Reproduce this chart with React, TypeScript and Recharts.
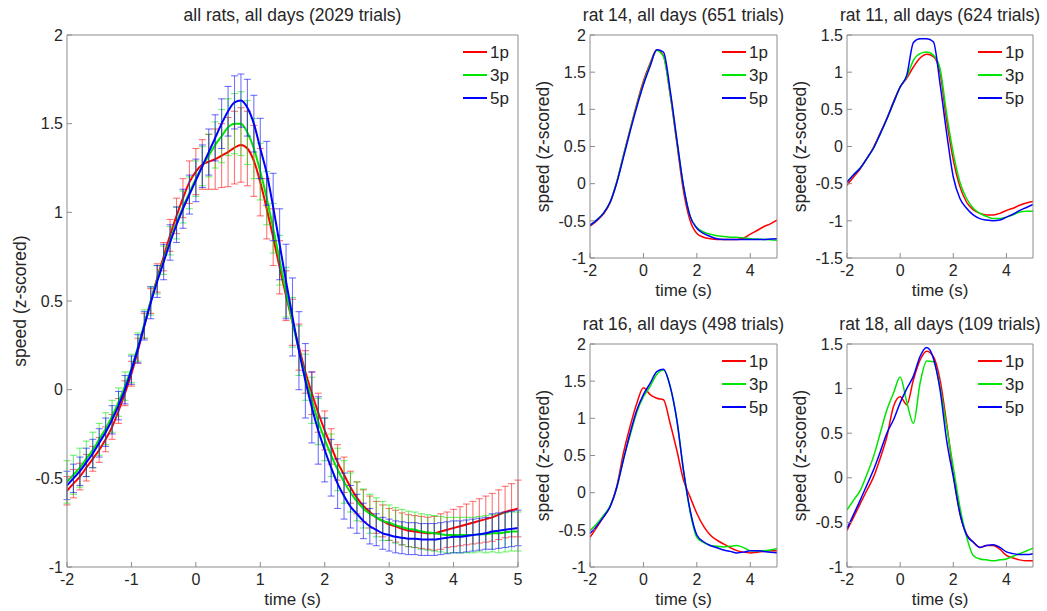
import React from "react";
import { LineChart, Line, XAxis, YAxis, ErrorBar } from "recharts";

const FONT = '"Liberation Sans", Arial, sans-serif';
const TEXT = "#262626";
const AXIS = "#8c8c8c";
const COLORS = ["#ff0000", "#00e600", "#0000ff"];
const SERIES = ["1p", "3p", "5p"];

// all rats, sampled every 0.1 s
const TIME_ALL = [
  -2, -1.9, -1.8, -1.7, -1.6, -1.5, -1.4, -1.3, -1.2, -1.1,
  -1, -0.9, -0.8, -0.7, -0.6, -0.5, -0.4, -0.3, -0.2, -0.1,
  0, 0.1, 0.2, 0.3, 0.4, 0.5, 0.6, 0.7, 0.8, 0.9,
  1, 1.1, 1.2, 1.3, 1.4, 1.5, 1.6, 1.7, 1.8, 1.9,
  2, 2.1, 2.2, 2.3, 2.4, 2.5, 2.6, 2.7, 2.8, 2.9,
  3, 3.1, 3.2, 3.3, 3.4, 3.5, 3.6, 3.7, 3.8, 3.9,
  4, 4.1, 4.2, 4.3, 4.4, 4.5, 4.6, 4.7, 4.8, 4.9,
  5,
];
const ALL_1P = [
  -0.57, -0.53, -0.49, -0.44, -0.39, -0.34, -0.28, -0.21, -0.12, -0.02,
  0.09, 0.22, 0.36, 0.5, 0.63, 0.75, 0.87, 0.98, 1.08, 1.17,
  1.23, 1.27, 1.285, 1.3, 1.32, 1.34, 1.365, 1.38, 1.36, 1.29,
  1.17, 1.02, 0.86, 0.69, 0.53, 0.38, 0.24, 0.1, -0.02, -0.13,
  -0.23, -0.32, -0.41, -0.48, -0.55, -0.61, -0.655, -0.69, -0.72, -0.74,
  -0.76, -0.77, -0.785, -0.795, -0.8, -0.805, -0.81, -0.81, -0.8, -0.79,
  -0.78, -0.77, -0.76, -0.75, -0.74, -0.73, -0.72, -0.705, -0.69, -0.68,
  -0.67,
];
const ALL_3P = [
  -0.52, -0.48, -0.44, -0.39, -0.34, -0.28, -0.22, -0.15, -0.07, 0.02,
  0.12, 0.24, 0.37, 0.5, 0.62, 0.73, 0.84, 0.94, 1.03, 1.11,
  1.19, 1.26, 1.32, 1.38, 1.43, 1.48, 1.5, 1.5, 1.45, 1.36,
  1.23, 1.08, 0.91, 0.73, 0.55, 0.38, 0.22, 0.07, -0.06, -0.18,
  -0.28, -0.37, -0.45, -0.52, -0.58, -0.63, -0.67, -0.7, -0.72, -0.74,
  -0.75, -0.765, -0.775, -0.785, -0.79, -0.8, -0.805, -0.81, -0.815, -0.82,
  -0.82, -0.82, -0.82, -0.82, -0.815, -0.815, -0.81, -0.81, -0.805, -0.8,
  -0.8,
];
const ALL_5P = [
  -0.54, -0.5, -0.46, -0.41, -0.36, -0.3, -0.24, -0.17, -0.09, 0.0,
  0.11, 0.23, 0.36, 0.49, 0.61, 0.72, 0.83, 0.93, 1.02, 1.1,
  1.18, 1.26, 1.34, 1.42, 1.5, 1.57, 1.62, 1.63, 1.59, 1.5,
  1.36, 1.22, 1.03, 0.82, 0.61, 0.41, 0.22, 0.05, -0.1, -0.23,
  -0.34, -0.44, -0.53, -0.6, -0.66, -0.7, -0.74, -0.77, -0.79, -0.81,
  -0.82, -0.83, -0.835, -0.84, -0.84, -0.845, -0.845, -0.845, -0.84, -0.835,
  -0.83, -0.83, -0.825, -0.82, -0.815, -0.81, -0.8, -0.795, -0.79, -0.785,
  -0.78,
];
const ALL_1P_ERR = [
  0.08, 0.08, 0.075, 0.075, 0.07, 0.07, 0.07, 0.07, 0.07, 0.07,
  0.07, 0.07, 0.07, 0.07, 0.08, 0.08, 0.09, 0.1, 0.11, 0.12,
  0.13, 0.14, 0.155, 0.17, 0.18, 0.195, 0.205, 0.21, 0.21, 0.2,
  0.19, 0.17, 0.16, 0.15, 0.14, 0.13, 0.13, 0.12, 0.12, 0.11,
  0.11, 0.1, 0.1, 0.1, 0.09, 0.09, 0.09, 0.09, 0.09, 0.09,
  0.09, 0.09, 0.09, 0.09, 0.09, 0.09, 0.09, 0.095, 0.1, 0.1,
  0.105, 0.11, 0.115, 0.12, 0.125, 0.13, 0.135, 0.14, 0.145, 0.15,
  0.16,
];
const ALL_3P_ERR = [
  0.12, 0.11, 0.11, 0.1, 0.1, 0.09, 0.09, 0.09, 0.08, 0.08,
  0.08, 0.08, 0.08, 0.08, 0.08, 0.08, 0.08, 0.09, 0.09, 0.09,
  0.1, 0.11, 0.12, 0.13, 0.15, 0.16, 0.17, 0.18, 0.18, 0.17,
  0.16, 0.15, 0.14, 0.14, 0.14, 0.14, 0.14, 0.13, 0.13, 0.13,
  0.12, 0.12, 0.12, 0.12, 0.11, 0.11, 0.11, 0.11, 0.11, 0.11,
  0.1, 0.1, 0.1, 0.1, 0.1, 0.1, 0.1, 0.1, 0.1, 0.1,
  0.1, 0.1, 0.1, 0.1, 0.1, 0.105, 0.105, 0.11, 0.11, 0.11,
  0.11,
];
const ALL_5P_ERR = [
  0.08, 0.08, 0.08, 0.08, 0.08, 0.08, 0.08, 0.08, 0.08, 0.08,
  0.08, 0.08, 0.08, 0.09, 0.09, 0.1, 0.1, 0.1, 0.11, 0.11,
  0.12, 0.12, 0.13, 0.13, 0.14, 0.14, 0.15, 0.15, 0.16, 0.16,
  0.17, 0.18, 0.19, 0.2, 0.21, 0.22, 0.22, 0.21, 0.2, 0.19,
  0.18, 0.16, 0.14, 0.13, 0.12, 0.11, 0.1, 0.1, 0.09, 0.09,
  0.09, 0.09, 0.09, 0.09, 0.09, 0.09, 0.09, 0.09, 0.09, 0.09,
  0.09, 0.09, 0.09, 0.09, 0.09, 0.09, 0.1, 0.1, 0.1, 0.1,
  0.1,
];

// single rats, sampled every 0.25 s
const TIME_RAT = [
  -2, -1.75, -1.5, -1.25, -1, -0.75, -0.5, -0.25, 0, 0.25, 0.5, 0.75, 1, 1.25,
  1.5, 1.75, 2, 2.25, 2.5, 2.75, 3, 3.25, 3.5, 3.75, 4, 4.25, 4.5, 4.75, 5,
];
const RAT14_1P = [
  -0.57, -0.5, -0.41, -0.26, 0.02, 0.38, 0.73, 1.07, 1.38, 1.62, 1.8, 1.72, 1.2, 0.55,
  -0.1, -0.5, -0.67, -0.72, -0.74, -0.75, -0.75, -0.75, -0.75, -0.73, -0.68, -0.63, -0.58, -0.54, -0.49,
];
const RAT14_3P = [
  -0.56, -0.49, -0.4, -0.25, 0.02, 0.37, 0.72, 1.05, 1.35, 1.6, 1.79, 1.71, 1.21, 0.58,
  -0.04, -0.44, -0.59, -0.65, -0.68, -0.7, -0.71, -0.72, -0.72, -0.73, -0.74, -0.745, -0.75, -0.755, -0.76,
];
const RAT14_5P = [
  -0.56, -0.49, -0.4, -0.25, 0.01, 0.35, 0.7, 1.03, 1.33, 1.58, 1.8, 1.77, 1.26, 0.6,
  -0.03, -0.44, -0.6, -0.67, -0.71, -0.74, -0.75, -0.75, -0.75, -0.75, -0.75, -0.75, -0.75, -0.745, -0.74,
];
const RAT11_1P = [
  -0.52, -0.41, -0.3, -0.16, -0.01, 0.18, 0.38, 0.6, 0.8, 0.92, 1.07, 1.19, 1.24, 1.21,
  1.0, 0.35, -0.18, -0.54, -0.75, -0.85, -0.9, -0.92, -0.92, -0.9, -0.86, -0.83, -0.79, -0.76, -0.74,
];
const RAT11_3P = [
  -0.48, -0.38, -0.29, -0.16, -0.02, 0.17, 0.37, 0.59, 0.8, 0.94, 1.16, 1.25, 1.27, 1.23,
  1.05, 0.44, -0.09, -0.48, -0.7, -0.83, -0.9, -0.94, -0.97, -0.97, -0.95, -0.92, -0.88, -0.87, -0.87,
];
const RAT11_5P = [
  -0.48, -0.38, -0.29, -0.16, -0.02, 0.17, 0.37, 0.59, 0.8, 0.96, 1.4, 1.45, 1.45, 1.41,
  0.85, 0.18, -0.41, -0.7, -0.83, -0.92, -0.97, -0.99, -1.0, -0.99, -0.95, -0.91, -0.86, -0.82, -0.78,
];
const RAT16_1P = [
  -0.6, -0.47, -0.33, -0.19, 0.08, 0.53, 0.89, 1.2, 1.41, 1.32, 1.27, 1.25, 0.93, 0.57,
  0.17, -0.06, -0.28, -0.45, -0.57, -0.64, -0.69, -0.74, -0.78, -0.8, -0.81, -0.8, -0.79, -0.78, -0.78,
];
const RAT16_3P = [
  -0.51, -0.42, -0.31, -0.18, 0.06, 0.45, 0.77, 1.08, 1.29, 1.43, 1.59, 1.65, 1.43, 0.98,
  0.3, -0.26, -0.6, -0.67, -0.71, -0.72, -0.73, -0.72, -0.71, -0.74, -0.78, -0.78, -0.78, -0.77, -0.75,
];
const RAT16_5P = [
  -0.55, -0.45, -0.33, -0.19, 0.07, 0.44, 0.8, 1.11, 1.32, 1.47, 1.63, 1.66, 1.43, 0.98,
  0.3, -0.24, -0.57, -0.66, -0.71, -0.74, -0.77, -0.79, -0.81, -0.8, -0.78, -0.78, -0.79, -0.8, -0.81,
];
const RAT18_1P = [
  -0.59, -0.44, -0.29, -0.14, 0.01, 0.22, 0.46, 0.8, 0.91, 0.82, 1.1, 1.32, 1.42, 1.36,
  1.1, 0.61, 0.05, -0.4, -0.63, -0.72, -0.78, -0.76, -0.76, -0.8, -0.87, -0.9, -0.92, -0.93, -0.93,
];
const RAT18_3P = [
  -0.36, -0.25, -0.14, 0.04, 0.24, 0.5, 0.76, 0.95, 1.13, 0.85, 0.61, 1.06, 1.31, 1.3,
  1.02, 0.57, 0.12, -0.33, -0.66, -0.87, -0.91, -0.92, -0.93, -0.92, -0.91, -0.88, -0.85, -0.82, -0.79,
];
const RAT18_5P = [
  -0.57, -0.41, -0.25, -0.08, 0.09, 0.29, 0.5, 0.65, 0.84, 1.0, 1.14, 1.36, 1.46, 1.34,
  0.99, 0.42, 0.01, -0.4, -0.64, -0.72, -0.78, -0.76, -0.75, -0.78, -0.83, -0.85, -0.86, -0.86, -0.85,
];

const X_TICKS_ALL = [-2, -1, 0, 1, 2, 3, 4, 5];
const X_TICKS_RAT = [-2, 0, 2, 4];
const Y_TICKS_A = [-1, -0.5, 0, 0.5, 1, 1.5, 2];
const Y_TICKS_B = [-1.5, -1, -0.5, 0, 0.5, 1, 1.5];
const Y_TICKS_C = [-1, -0.5, 0, 0.5, 1, 1.5];

const TICK_FONT = 16;
const LABEL_FONT = 17.5;

function makeRows(time: number[], s: number[][], e?: number[][]) {
  return time.map((t, i) => {
    const row: Record<string, number> = { t, p0: s[0][i], p1: s[1][i], p2: s[2][i] };
    if (e) {
      row.e0 = e[0][i];
      row.e1 = e[1][i];
      row.e2 = e[2][i];
    }
    return row;
  });
}

type PanelProps = {
  title: string;
  rows: Record<string, number>[];
  plot: [number, number, number, number]; // left, right, top, bottom
  frame: [number, number, number, number]; // left, top, width, height
  yDomain: [number, number];
  yTicks: number[];
  xTicks: number[];
  errors?: boolean;
  lineWidth: number;
};

const Y_AXIS_W = 60;
const X_AXIS_H = 44;

function Panel({ title, rows, plot, frame, yDomain, yTicks, xTicks, errors, lineWidth }: PanelProps) {
  const [x0, x1, y0, y1] = plot;
  const [left, top, width, height] = frame;
  const margin = {
    left: x0 - left - Y_AXIS_W,
    right: left + width - x1 - 1,
    top: y0 - top - 1,
    bottom: top + height - y1 - X_AXIS_H,
  };

  return (
    <>
      <div
        style={{
          position: "absolute",
          left: x0 - 60,
          width: x1 - x0 + 120,
          top: y0 - 30,
          textAlign: "center",
          fontSize: LABEL_FONT,
          lineHeight: "20px",
          color: TEXT,
          whiteSpace: "nowrap",
        }}
      >
        {title}
      </div>
      <div style={{ position: "absolute", left, top, width, height }}>
        <LineChart width={width} height={height} data={rows} margin={margin}>
          <XAxis
            xAxisId="b"
            dataKey="t"
            type="number"
            domain={[-2, 5]}
            ticks={xTicks}
            interval={0}
            allowDataOverflow
            height={X_AXIS_H}
            tickSize={-5}
            tickMargin={12}
            stroke={AXIS}
            tick={{ fill: TEXT, fontSize: TICK_FONT }}
            label={{ value: "time (s)", position: "insideBottom", offset: 6, fill: TEXT, fontSize: 17 }}
          />
          <XAxis
            xAxisId="top"
            orientation="top"
            dataKey="t"
            type="number"
            domain={[-2, 5]}
            ticks={xTicks}
            interval={0}
            allowDataOverflow
            height={1}
            tickSize={-5}
            tick={false}
            stroke={AXIS}
          />
          <YAxis
            yAxisId="l"
            type="number"
            domain={yDomain}
            ticks={yTicks}
            interval={0}
            allowDataOverflow
            width={Y_AXIS_W}
            tickSize={-5}
            tickMargin={9}
            stroke={AXIS}
            tick={{ fill: TEXT, fontSize: TICK_FONT }}
            label={{
              value: "speed (z-scored)",
              angle: -90,
              position: "insideLeft",
              offset: Y_AXIS_W - 47,
              fill: TEXT,
              fontSize: LABEL_FONT,
              style: { textAnchor: "middle" },
            }}
          />
          <YAxis
            yAxisId="r"
            orientation="right"
            type="number"
            domain={yDomain}
            ticks={yTicks}
            interval={0}
            allowDataOverflow
            width={1}
            tickSize={-5}
            tick={false}
            stroke={AXIS}
          />
          {SERIES.map((name, i) => (
            <Line
              key={name}
              xAxisId="b"
              yAxisId="l"
              type="monotone"
              dataKey={`p${i}`}
              name={name}
              stroke={COLORS[i]}
              strokeWidth={lineWidth}
              dot={false}
              activeDot={false}
              isAnimationActive={false}
            >
              {errors && (
                <ErrorBar
                  dataKey={`e${i}`}
                  direction="y"
                  width={3.5}
                  stroke={COLORS[i]}
                  strokeOpacity={0.55}
                  strokeWidth={1.1}
                  isAnimationActive={false}
                />
              )}
            </Line>
          ))}
        </LineChart>
      </div>
      <svg
        width={60}
        height={80}
        style={{ position: "absolute", left: x1 - 58, top: y0 }}
      >
        {SERIES.map((name, i) => (
          <g key={name}>
            <line x1={3} x2={27} y1={17 + i * 23} y2={17 + i * 23} stroke={COLORS[i]} strokeWidth={2} />
            <text x={30} y={17 + i * 23} dy="0.36em" fontSize={17} fill={TEXT}>
              {name}
            </text>
          </g>
        ))}
      </svg>
    </>
  );
}

const allRows = makeRows(TIME_ALL, [ALL_1P, ALL_3P, ALL_5P], [ALL_1P_ERR, ALL_3P_ERR, ALL_5P_ERR]);
const rat14Rows = makeRows(TIME_RAT, [RAT14_1P, RAT14_3P, RAT14_5P]);
const rat11Rows = makeRows(TIME_RAT, [RAT11_1P, RAT11_3P, RAT11_5P]);
const rat16Rows = makeRows(TIME_RAT, [RAT16_1P, RAT16_3P, RAT16_5P]);
const rat18Rows = makeRows(TIME_RAT, [RAT18_1P, RAT18_3P, RAT18_5P]);

export default function App() {
  return (
    <div
      style={{
        position: "absolute",
        left: 0,
        top: 0,
        width: 1047,
        height: 611,
        background: "#fff",
        fontFamily: FONT,
        overflow: "hidden",
      }}
    >
      <Panel
        title="all rats, all days (2029 trials)"
        rows={allRows}
        plot={[67, 518, 35, 567]}
        frame={[0, 0, 530, 611]}
        yDomain={[-1, 2]}
        yTicks={Y_TICKS_A}
        xTicks={X_TICKS_ALL}
        errors
        lineWidth={2}
      />
      <Panel
        title="rat 14, all days (651 trials)"
        rows={rat14Rows}
        plot={[590, 777, 35, 258]}
        frame={[530, 0, 260, 302]}
        yDomain={[-1, 2]}
        yTicks={Y_TICKS_A}
        xTicks={X_TICKS_RAT}
        lineWidth={1.5}
      />
      <Panel
        title="rat 11, all days (624 trials)"
        rows={rat11Rows}
        plot={[847, 1033, 35, 258]}
        frame={[787, 0, 260, 302]}
        yDomain={[-1.5, 1.5]}
        yTicks={Y_TICKS_B}
        xTicks={X_TICKS_RAT}
        lineWidth={1.5}
      />
      <Panel
        title="rat 16, all days (498 trials)"
        rows={rat16Rows}
        plot={[590, 777, 344, 567]}
        frame={[530, 300, 260, 311]}
        yDomain={[-1, 2]}
        yTicks={Y_TICKS_A}
        xTicks={X_TICKS_RAT}
        lineWidth={1.5}
      />
      <Panel
        title="rat 18, all days (109 trials)"
        rows={rat18Rows}
        plot={[847, 1033, 344, 567]}
        frame={[787, 300, 260, 311]}
        yDomain={[-1, 1.5]}
        yTicks={Y_TICKS_C}
        xTicks={X_TICKS_RAT}
        lineWidth={1.5}
      />
    </div>
  );
}
